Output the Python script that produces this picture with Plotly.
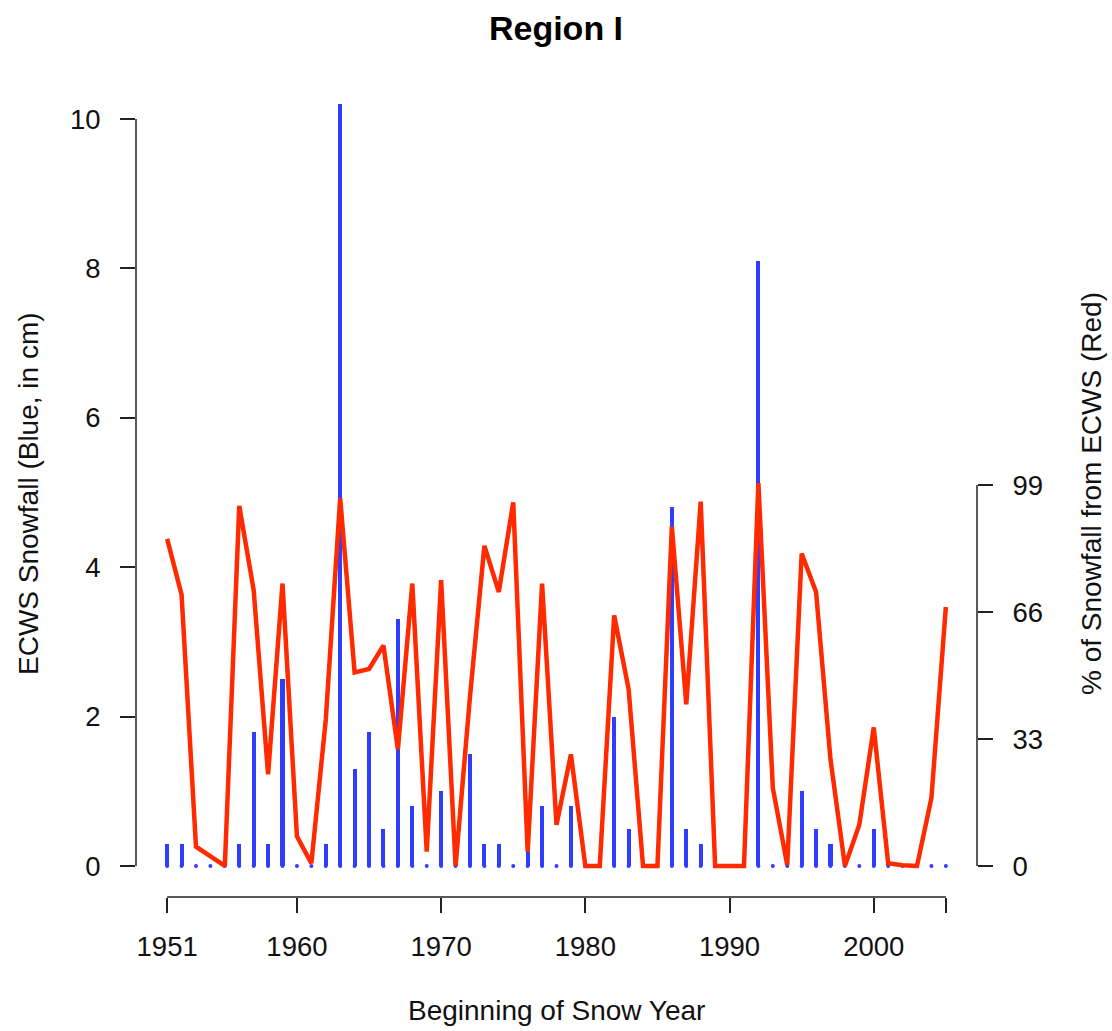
import plotly.graph_objects as go

years = list(range(1951, 2006))

# ECWS snowfall (cm) - blue vertical bars (left axis)
ecws_cm = [0.3, 0.3, 0.0, 0.0, 0.0, 0.3, 1.8, 0.3, 2.5, 0.0,
           0.0, 0.3, 10.2, 1.3, 1.8, 0.5, 3.3, 0.8, 0.0, 1.0,
           0.0, 1.5, 0.3, 0.3, 0.0, 0.2, 0.8, 0.0, 0.8, 0.0,
           0.0, 2.0, 0.5, 0.0, 0.0, 4.8, 0.5, 0.3, 0.0, 0.0,
           0.0, 8.1, 0.0, 0.0, 1.0, 0.5, 0.3, 0.0, 0.0, 0.5,
           0.0, 0.0, 0.0, 0.0, 0.0]

# % of snowfall from ECWS - red line (right axis)
pct_ecws = [85, 70.5, 5, 2.5, 0, 93.6, 71.7, 23.8, 73.4, 7.7,
            0.7, 38, 95.6, 50.3, 51.2, 57.3, 30.3, 73.4, 3.7, 74.3,
            0, 44, 83.2, 71.2, 94.5, 3.7, 73.4, 10.7, 29, 0,
            0, 65.1, 46, 0, 0, 88.2, 42, 94.7, 0, 0,
            0, 99.5, 20.3, 0.3, 81.2, 71.2, 27.7, 0, 10.7, 36,
            0.7, 0.2, 0, 17.7, 67.3]

x_ticks = [1951, 1960, 1970, 1980, 1990, 2000, 2005]
x_ticklabels = ["1951", "1960", "1970", "1980", "1990", "2000", ""]
y_ticks = [0, 2, 4, 6, 8, 10]
y2_ticks = [0, 33, 66, 99]

BLUE = "#2f3dff"
RED = "#ff2a00"
FONT = "Liberation Sans, Arial, Helvetica, sans-serif"

W, H = 1112, 1031
PL, PR, PT, PB = 136, 977, 74, 897   # plot-area edges in px
PH = PB - PT

fig = go.Figure()

fig.add_trace(go.Bar(
    x=years, y=ecws_cm, width=0.28, marker=dict(color=BLUE, line=dict(width=0)),
    yaxis="y", showlegend=False, hoverinfo="x+y"))

# tiny dots at the baseline (round caps of R type='h' lines)
fig.add_trace(go.Scatter(
    x=years, y=[0] * len(years), mode="markers",
    marker=dict(color=BLUE, size=4, line=dict(width=0)),
    yaxis="y", showlegend=False, hoverinfo="skip"))

fig.add_trace(go.Scatter(
    x=years, y=pct_ecws, mode="lines",
    line=dict(color=RED, width=4.5),
    yaxis="y2", showlegend=False))

tickfont = dict(family=FONT, size=27.5, color="#111")

fig.update_layout(
    width=W, height=H,
    margin=dict(l=PL, r=W - PR, t=PT, b=H - PB, pad=0),
    paper_bgcolor="white", plot_bgcolor="white",
    bargap=0,
    title=dict(text="<b>Region I</b>", x=0.5, xanchor="center",
               y=1 - 28 / H, yanchor="middle",
               font=dict(family=FONT, size=34, color="#000")),
    xaxis=dict(range=[1948.84, 2007.16], tickvals=x_ticks, ticktext=x_ticklabels,
               ticks="outside", ticklen=15, tickwidth=1.5, tickcolor="#222",
               showline=False, showgrid=False, zeroline=False,
               tickfont=tickfont, ticklabelstandoff=10),
    yaxis=dict(range=[-0.415, 10.602], tickvals=y_ticks,
               ticks="outside", ticklen=15, tickwidth=1.5, tickcolor="#222",
               showline=False, showgrid=False, zeroline=False,
               tickfont=tickfont, ticklabelstandoff=14),
    yaxis2=dict(range=[-8.06, 205.8], tickvals=y2_ticks, overlaying="y", side="right",
                ticks="outside", ticklen=15, tickwidth=1.5, tickcolor="#222",
                showline=False, showgrid=False, zeroline=False,
                tickfont=tickfont, ticklabelstandoff=14),
)

# R-style axis lines spanning only first..last tick
fig.add_shape(type="line", xref="x", yref="paper", x0=x_ticks[0], x1=x_ticks[-1], y0=0, y1=0,
              line=dict(color="#222", width=1.5))
fig.add_shape(type="line", xref="paper", yref="y", x0=0, x1=0, y0=y_ticks[0], y1=y_ticks[-1],
              line=dict(color="#222", width=1.5))
fig.add_shape(type="line", xref="paper", yref="y2", x0=1, x1=1, y0=y2_ticks[0], y1=y2_ticks[-1],
              line=dict(color="#222", width=1.5))

titlefont = dict(family=FONT, size=28, color="#111")
mid_y = (PB - 494) / PH
fig.add_annotation(text="Beginning of Snow Year", xref="paper", yref="paper",
                   x=0.5, y=0, yshift=-(1010 - PB), xanchor="center", yanchor="middle",
                   showarrow=False, font=titlefont)
fig.add_annotation(text="ECWS Snowfall (Blue, in cm)", xref="paper", yref="paper",
                   x=0, y=mid_y, xshift=-(PL - 28), textangle=-90,
                   xanchor="center", yanchor="middle", showarrow=False, font=titlefont)
fig.add_annotation(text="% of Snowfall from ECWS (Red)", xref="paper", yref="paper",
                   x=1, y=mid_y, xshift=(1091 - PR), textangle=-90,
                   xanchor="center", yanchor="middle", showarrow=False, font=titlefont)

fig.write_html("out.html", config={"displayModeBar": False},
               post_script="document.body.style.margin='0';document.body.style.overflow='hidden';")
